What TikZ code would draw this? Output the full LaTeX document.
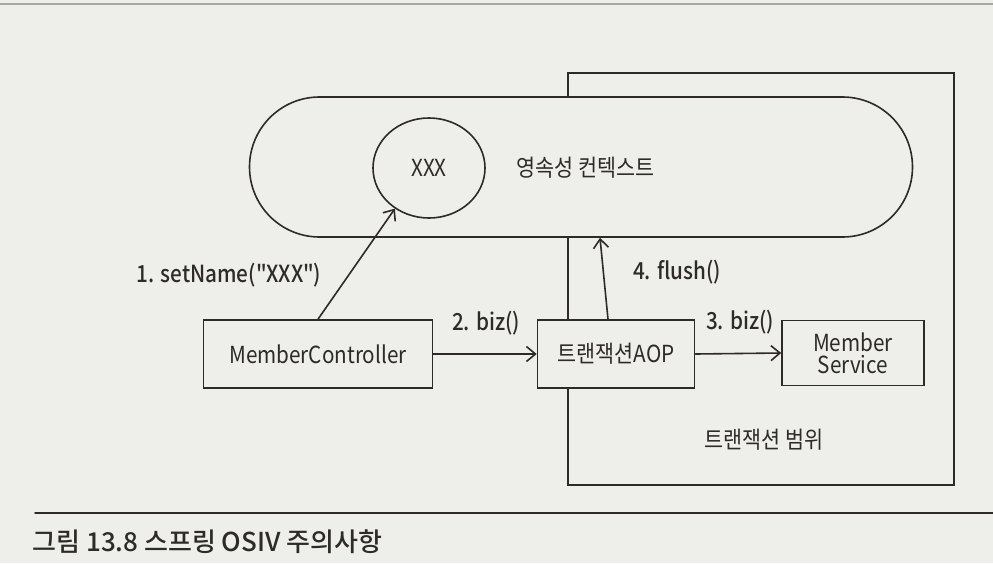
\documentclass[tikz,border=0pt]{standalone}
\usepackage{fontspec}
\usepackage{tikz}
\usetikzlibrary{arrows.meta,shapes.misc,shapes.geometric,positioning}
\newfontfamily\kfont{Noto Sans CJK KR}[FakeStretch=0.88]
\newfontfamily\kmed{Noto Sans CJK KR Medium}[FakeStretch=0.88]
\newfontfamily\kcap{Noto Sans CJK KR Medium}
\definecolor{paper}{RGB}{238,238,235}
\definecolor{ink}{RGB}{45,42,40}

\begin{document}
\begin{tikzpicture}[x=1pt,y=-1pt,line cap=round,
  box/.style={draw=ink,line width=1.6pt,fill=paper,font=\kfont\fontsize{23.5}{26}\selectfont,align=center,text=ink},
  call/.style={font=\kmed\fontsize{23.5}{27}\selectfont,text=ink},
  arr/.style={draw=ink,line width=1.6pt,-{Straight Barb[length=9pt,width=15pt,line width=1.6pt]}}]
  \useasboundingbox[fill=paper] (0,0) rectangle (993,563);
  \draw[gray!70,line width=2pt] (0,4) -- (993,4);
  % transaction scope, drawn first so the context covers it
  \node[box,minimum width=386,minimum height=412] (tx) at (761,279) {};
  \node[font=\kfont\fontsize{23.5}{26}\selectfont,text=ink] (txlabel) at (764,440) {트랜잭션 범위};
  % persistence context
  \node[box,rounded rectangle,minimum width=663,minimum height=140,inner sep=0pt] (ctx) at (581,167) {};
  \node[box,ellipse,minimum width=112,minimum height=100,inner sep=0pt] (xxx) at (429,168) {XXX};
  \node[anchor=west,font=\kfont\fontsize{23.5}{26}\selectfont,text=ink] (ctxlabel) at (513,168) {영속성 컨텍스트};
  % callers
  \node[box,minimum width=229,minimum height=68] (mc) at (318,354) {MemberController};
  \node[box,minimum width=157,minimum height=68] (aop) at (616,354) {트랜잭션AOP};
  \node[box,minimum width=142,minimum height=65,inner sep=2pt] (ms) at (853,353) {Member\\[-4pt]Service};
  \draw[arr] (mc.north) -- (xxx.230);
  \draw[arr] (mc.east) -- (aop.west);
  \draw[arr] (aop.east) -- (ms.west);
  \draw[arr] ([xshift=-8pt]aop.north) -- ([xshift=19pt]ctx.south);
  \node[call] (l1) at (229,275) {1. setName("XXX")};
  \node[call] (l2) at (486,323) {2. biz()};
  \node[call] (l3) at (740,322) {3. biz()};
  \node[call] (l4) at (677,272) {4. flush()};
  % caption
  \draw[ink,line width=1.4pt] (35,513) -- (993,513);
  \node[anchor=west,font=\kcap\fontsize{26}{30}\selectfont,text=ink] (cap) at (29,542) {그림 13.8 스프링 OSIV 주의사항};
\end{tikzpicture}
\end{document}
